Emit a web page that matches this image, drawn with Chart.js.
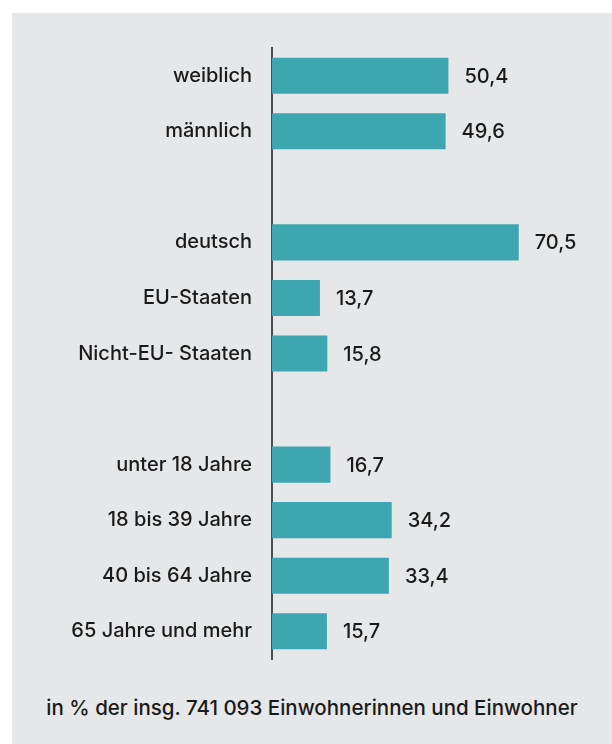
<!DOCTYPE html>
<html>
<head>
<meta charset="utf-8">
<script src="https://cdn.jsdelivr.net/npm/chart.js@4"></script>
<style>
  body { margin: 0; background: #fff; font-family: Inter, "Liberation Sans", Arial, sans-serif; }
  #panel { position: absolute; left: 12px; top: 13px; width: 600px; height: 731px; background: #e6e7e8; }
  #chart { position: absolute; left: 0; top: 0; }
  #note { position: absolute; left: 0; top: 683px; width: 600px; text-align: center;
          font-size: 20.5px; font-weight: 500; line-height: 24px; color: #1a1a1a; }
</style>
</head>
<body>
<div id="panel">
  <canvas id="chart" width="600" height="678"></canvas>
  <div id="note">in % der insg. 741 093 Einwohnerinnen und Einwohner</div>
</div>
<script>
// empty strings / nulls are the gaps between the three groups
const categories = [
  "weiblich", "männlich", "",
  "deutsch", "EU-Staaten", "Nicht-EU- Staaten", "",
  "unter 18 Jahre", "18 bis 39 Jahre", "40 bis 64 Jahre", "65 Jahre und mehr",
];
const shares = [50.4, 49.6, null, 70.5, 13.7, 15.8, null, 16.7, 34.2, 33.4, 15.7];
const xMax = 90;

const barColor = "#3ea6b0";
const textColor = "#1a1a1a";
const fontFamily = 'Inter, "Liberation Sans", Arial, sans-serif';

Chart.defaults.font.family = fontFamily;
Chart.defaults.color = textColor;

const valueLabels = {
  id: "valueLabels",
  afterDatasetsDraw(chart) {
    const ctx = chart.ctx;
    const meta = chart.getDatasetMeta(0);
    ctx.save();
    ctx.font = "500 20px " + fontFamily;
    ctx.fillStyle = textColor;
    ctx.textAlign = "left";
    ctx.textBaseline = "middle";
    meta.data.forEach((bar, i) => {
      const v = shares[i];
      if (v == null) return;
      ctx.fillText(v.toFixed(1).replace(".", ","), bar.x + 16, bar.y + 1);
    });
    ctx.restore();
  },
};

new Chart(document.getElementById("chart"), {
  type: "bar",
  data: {
    labels: categories,
    datasets: [
      {
        data: shares,
        backgroundColor: barColor,
        barPercentage: 0.65,
        categoryPercentage: 1,
      },
    ],
  },
  options: {
    indexAxis: "y",
    responsive: false,
    animation: false,
    layout: { padding: { top: 35, right: 25, bottom: 0, left: 0 } },
    plugins: {
      legend: { display: false },
      tooltip: { enabled: false },
    },
    scales: {
      x: { display: false, min: 0, max: xMax },
      y: {
        grid: { display: false, drawTicks: false },
        border: { display: true, color: "#4d4d4d", width: 2 },
        ticks: { padding: 20, font: { size: 20, weight: 500 }, color: textColor },
        afterFit: (scale) => { scale.width = 260; },
      },
    },
  },
  plugins: [valueLabels],
});
</script>
</body>
</html>
